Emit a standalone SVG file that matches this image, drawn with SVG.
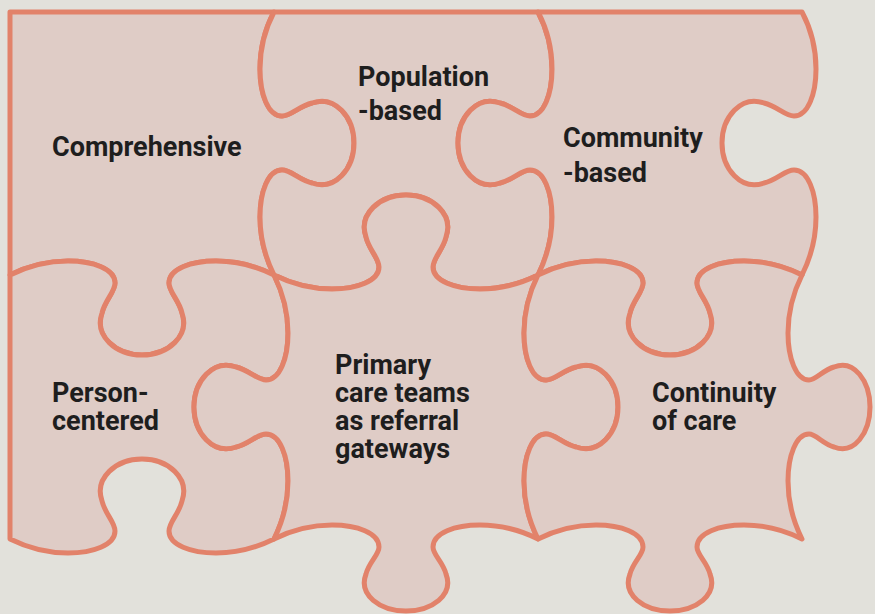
<svg xmlns="http://www.w3.org/2000/svg" width="875" height="614" viewBox="0 0 875 614">
  <style>
    .piece { fill: #dfccc6; stroke: #e2826a; stroke-width: 5; stroke-linejoin: round; }
    .label { font-family: Roboto, "Liberation Sans", sans-serif; font-weight: 700; font-size: 27px; fill: #1e1e1e; }
  </style>
  <rect x="0" y="0" width="875" height="614" fill="#e2e1db"/>

  <g id="comprehensive">
    <path class="piece" d="M 10,12 L 274,12
      C 265,29 260,49 260,69 C 260,94 268,116 282,116 C 291,116 299,106 312,103 C 335,95 354,117 354,143
      C 354,169 335,191 312,183 C 299,180 291,170 282,170 C 268,170 260,192 260,217 C 260,237 265,257 274,275
      C 256,266 236,261 216,261 C 191,261 169,269 169,283 C 169,292 179,300 182,313 C 190,336 168,355 142,355
      C 116,355 94,336 102,313 C 105,300 115,292 115,283 C 115,269 93,261 68,261 C 48,261 28,266 10,275 Z"/>
    <text class="label" x="52" y="156">Comprehensive</text>
  </g>

  <g id="population-based">
    <path class="piece" d="M 274,12 L 538,12
      C 547,29 552,49 552,69 C 552,94 544,116 530,116 C 521,116 513,106 500,103 C 477,95 458,117 458,143
      C 458,169 477,191 500,183 C 513,180 521,170 530,170 C 544,170 552,192 552,217 C 552,237 547,257 538,275
      C 520,284 500,289 480,289 C 455,289 433,281 433,267 C 433,258 443,250 446,237 C 454,214 432,195 406,195
      C 380,195 358,214 366,237 C 369,250 379,258 379,267 C 379,281 357,289 332,289 C 312,289 292,284 274,275
      C 265,257 260,237 260,217 C 260,192 268,170 282,170 C 291,170 299,180 312,183 C 335,191 354,169 354,143
      C 354,117 335,95 312,103 C 299,106 291,116 282,116 C 268,116 260,94 260,69 C 260,49 265,29 274,12 Z"/>
    <text class="label" x="358" y="86">Population</text>
    <text class="label" x="358" y="120">-based</text>
  </g>

  <g id="community-based">
    <path class="piece" d="M 538,12 L 802,12
      C 811,29 816,49 816,69 C 816,94 808,116 794,116 C 785,116 777,106 764,103 C 741,95 722,117 722,143
      C 722,169 741,191 764,183 C 777,180 785,170 794,170 C 808,170 816,192 816,217 C 816,237 811,257 802,275
      C 784,266 764,261 744,261 C 719,261 697,269 697,283 C 697,292 707,300 710,313 C 718,336 696,355 670,355
      C 644,355 622,336 630,313 C 633,300 643,292 643,283 C 643,269 621,261 596,261 C 576,261 556,266 538,275
      C 547,257 552,237 552,217 C 552,192 544,170 530,170 C 521,170 513,180 500,183 C 477,191 458,169 458,143
      C 458,117 477,95 500,103 C 513,106 521,116 530,116 C 544,116 552,94 552,69 C 552,49 547,29 538,12 Z"/>
    <text class="label" x="563" y="147">Community</text>
    <text class="label" x="563" y="182">-based</text>
  </g>

  <g id="person-centered">
    <path class="piece" d="M 10,275
      C 28,266 48,261 68,261 C 93,261 115,269 115,283 C 115,292 105,300 102,313 C 94,336 116,355 142,355
      C 168,355 190,336 182,313 C 179,300 169,292 169,283 C 169,269 191,261 216,261 C 236,261 256,266 274,275
      C 283,293 288,313 288,333 C 288,358 280,380 266,380 C 257,380 249,370 236,367 C 213,359 194,381 194,407
      C 194,433 213,455 236,447 C 249,444 257,434 266,434 C 280,434 288,456 288,481 C 288,501 283,521 274,539
      C 256,548 236,553 216,553 C 191,553 169,545 169,531 C 169,522 179,514 182,501 C 190,478 168,459 142,459
      C 116,459 94,478 102,501 C 105,514 115,522 115,531 C 115,545 93,553 68,553 C 48,553 28,548 10,539 Z"/>
    <text class="label" x="52" y="402">Person-</text>
    <text class="label" x="52" y="430">centered</text>
  </g>

  <g id="primary-care-teams">
    <path class="piece" d="M 274,275
      C 292,284 312,289 332,289 C 357,289 379,281 379,267 C 379,258 369,250 366,237 C 358,214 380,195 406,195
      C 432,195 454,214 446,237 C 443,250 433,258 433,267 C 433,281 455,289 480,289 C 500,289 520,284 538,275
      C 529,293 524,313 524,333 C 524,358 532,380 546,380 C 555,380 563,370 576,367 C 599,359 618,381 618,407
      C 618,433 599,455 576,447 C 563,444 555,434 546,434 C 532,434 524,456 524,481 C 524,501 529,521 538,539
      C 520,530 500,525 480,525 C 455,525 433,533 433,547 C 433,555 443,562 446,574 C 454,595 432,611 406,611
      C 380,611 358,595 366,574 C 369,562 379,555 379,547 C 379,533 357,525 332,525 C 312,525 292,530 274,539
      C 283,521 288,501 288,481 C 288,456 280,434 266,434 C 257,434 249,444 236,447 C 213,455 194,433 194,407
      C 194,381 213,359 236,367 C 249,370 257,380 266,380 C 280,380 288,358 288,333 C 288,313 283,293 274,275 Z"/>
    <text class="label" x="335" y="374">Primary</text>
    <text class="label" x="335" y="402">care teams</text>
    <text class="label" x="335" y="430">as referral</text>
    <text class="label" x="335" y="458">gateways</text>
  </g>

  <g id="continuity-of-care">
    <path class="piece" d="M 538,275
      C 556,266 576,261 596,261 C 621,261 643,269 643,283 C 643,292 633,300 630,313 C 622,336 644,355 670,355
      C 696,355 718,336 710,313 C 707,300 697,292 697,283 C 697,269 719,261 744,261 C 764,261 784,266 802,275
      C 793,293 788,313 788,333 C 788,358 796,380 809,380 C 816,380 823,370 834,367 C 854,359 870,381 870,407
      C 870,433 854,455 834,447 C 823,444 816,434 809,434 C 796,434 788,456 788,481 C 788,501 793,521 802,539
      C 784,530 764,525 744,525 C 719,525 697,533 697,547 C 697,555 707,562 710,574 C 718,595 696,611 670,611
      C 644,611 622,595 630,574 C 633,562 643,555 643,547 C 643,533 621,525 596,525 C 576,525 556,530 538,539
      C 529,521 524,501 524,481 C 524,456 532,434 546,434 C 555,434 563,444 576,447 C 599,455 618,433 618,407
      C 618,381 599,359 576,367 C 563,370 555,380 546,380 C 532,380 524,358 524,333 C 524,313 529,293 538,275 Z"/>
    <text class="label" x="652" y="402">Continuity</text>
    <text class="label" x="652" y="430">of care</text>
  </g>
</svg>
